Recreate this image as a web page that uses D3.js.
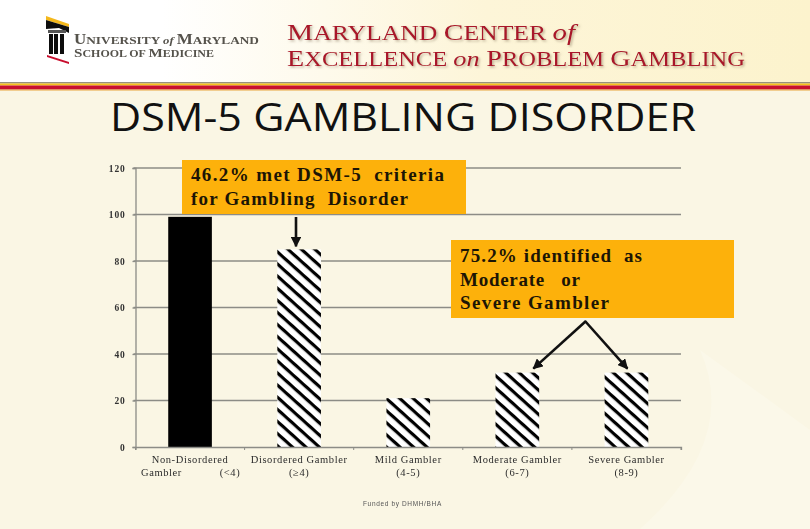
<!DOCTYPE html>
<html>
<head>
<meta charset="utf-8">
<script src="https://cdn.jsdelivr.net/npm/d3@7"></script>
<style>
html, body { margin: 0; padding: 0; background: #faf6e4; }
svg { display: block; }
</style>
</head>
<body>
<script>
"use strict";

///////////////////
// data
///////////////////
var categories = ["Non-Disordered", "Disordered Gambler", "Mild Gambler", "Moderate Gambler", "Severe Gambler"];
var scoreLabels = ["(<4)", "(\u22654)", "(4-5)", "(6-7)", "(8-9)"];
var values = [99, 85, 21, 32, 32];
var yTicks = [0, 20, 40, 60, 80, 100, 120];

var width = 810, height = 529;
var red = "#a9192b";

var svg = d3.select("body").append("svg")
    .attr("width", width)
    .attr("height", height);
var defs = svg.append("defs");

///////////////////
// defs
///////////////////
var headerGrad = defs.append("linearGradient").attr("id", "headerGrad");
headerGrad.append("stop").attr("offset", "0.2").attr("stop-color", "#ffffff");
headerGrad.append("stop").attr("offset", "0.6").attr("stop-color", "#fdf5d8");
headerGrad.append("stop").attr("offset", "1").attr("stop-color", "#fcf3cd");

var hatch = defs.append("pattern")
    .attr("id", "hatch")
    .attr("patternUnits", "userSpaceOnUse")
    .attr("width", 9)
    .attr("height", 9)
    .attr("patternTransform", "rotate(42)");
hatch.append("rect").attr("width", 9).attr("height", 9).attr("fill", "#fff");
hatch.append("rect").attr("width", 9).attr("height", 3.2).attr("fill", "#000");

defs.append("filter").attr("id", "soft")
    .append("feGaussianBlur").attr("stdDeviation", 0.45);

var shadow = defs.append("filter").attr("id", "shadow");
shadow.append("feDropShadow")
    .attr("dx", 1.5).attr("dy", 1.5).attr("stdDeviation", 1)
    .attr("flood-color", "#8a7a60").attr("flood-opacity", 0.55);

defs.append("marker")
    .attr("id", "head")
    .attr("viewBox", "0 0 10 10")
    .attr("refX", 9).attr("refY", 5)
    .attr("markerWidth", 4).attr("markerHeight", 4)
    .attr("orient", "auto")
    .append("path")
    .attr("d", "M0,0L10,5L0,10Z")
    .attr("fill", "#111");

///////////////////
// header
///////////////////
svg.append("rect").attr("width", width).attr("height", 83).attr("fill", "url(#headerGrad)");

// faint lighter swoosh of the slide background
svg.append("path")
    .attr("d", "M640,529 Q740,440 700,350 L810,430 L810,529 Z")
    .attr("fill", "#fbf8e9");

// rule under the header, grey / yellow / red
[["#97907c", 82, 1.5], ["#f6c21c", 83.5, 2], ["#c8102e", 85.5, 4], ["#e8a33a", 89.5, 1]].forEach(function(d) {
    svg.append("rect")
        .attr("x", 0).attr("y", d[1])
        .attr("width", width).attr("height", d[2])
        .attr("fill", d[0]);
});

// logo: small building
var logo = svg.append("g").attr("filter", "url(#soft)");
logo.append("path").attr("d", "M46,16 L69,24 L69,27 L46,20 Z").attr("fill", "#f4b81c");
logo.append("path").attr("d", "M46,20 L69,27 L69,33 L59,28 L46,29 Z").attr("fill", "#111");
logo.append("rect").attr("x", 48).attr("y", 30).attr("width", 18).attr("height", 3).attr("fill", "#555");
[49, 54, 60].forEach(function(x) {
    logo.append("rect").attr("x", x).attr("y", 34).attr("width", 4).attr("height", 20).attr("fill", "#111");
});
logo.append("path").attr("d", "M47,55 L69,62 L69,64 L47,57 Z").attr("fill", "#c8102e");

function smallCaps(x, y, parts, attrs) {
    var t = svg.append("text").attr("x", x).attr("y", y).attr("lengthAdjust", "spacingAndGlyphs");
    Object.keys(attrs).forEach(function(k) { t.attr(k, attrs[k]); });
    parts.forEach(function(p) {
        var s = t.append("tspan").text(p[0]).attr("font-size", p[1]);
        if (p[2]) s.attr("font-style", "italic");
    });
    return t;
}

var logoText = { "font-family": "Liberation Serif", "fill": "#55524c", "font-weight": "bold", "filter": "url(#soft)" };
smallCaps(74, 43.5, [["U", 14], ["NIVERSITY ", 11], ["of ", 10.5, true], ["M", 14], ["ARYLAND", 11]], logoText)
    .attr("textLength", 185);
smallCaps(74, 57, [["S", 12], ["CHOOL OF ", 9.5], ["M", 12], ["EDICINE", 9.5]], logoText)
    .attr("textLength", 140);

var headText = { "font-family": "Liberation Serif", "fill": red, "filter": "url(#shadow)" };
smallCaps(287, 39.5, [["M", 23.5], ["ARYLAND ", 20.5], ["C", 23.5], ["ENTER ", 20.5], ["of", 23, true]], headText)
    .attr("textLength", 288);
smallCaps(287, 65.5, [["E", 23.5], ["XCELLENCE ", 20.5], ["on ", 22, true], ["P", 23.5], ["ROBLEM ", 20.5], ["G", 23.5], ["AMBLING", 20.5]], headText)
    .attr("textLength", 458);

svg.append("text")
    .attr("x", 110).attr("y", 131)
    .attr("font-family", "Open Sans")
    .attr("font-size", 38.5)
    .attr("fill", "#111")
    .attr("lengthAdjust", "spacingAndGlyphs")
    .attr("textLength", 586)
    .text("DSM-5 GAMBLING DISORDER");

///////////////////
// chart
///////////////////
var plot = { left: 135.5, right: 681, top: 168, bottom: 447 };

var x = d3.scaleBand()
    .domain(categories)
    .range([plot.left, plot.right])
    .paddingInner(0.6)
    .paddingOuter(0.3);
var band = d3.scaleBand().domain(categories).range([plot.left, plot.right]);
var y = d3.scaleLinear().domain([0, 120]).range([plot.bottom, plot.top]);

// gridlines
svg.append("g").selectAll("line")
    .data(yTicks.filter(function(d) { return d > 0; }))
    .enter()
    .append("line")
    .attr("x1", plot.left - 2).attr("x2", plot.right)
    .attr("y1", function(d) { return y(d); })
    .attr("y2", function(d) { return y(d); })
    .attr("stroke", "#8c8c86")
    .attr("stroke-width", 1.3);

// bars
svg.append("g").selectAll("rect")
    .data(values)
    .enter()
    .append("rect")
    .attr("x", function(d, i) { return x(categories[i]); })
    .attr("y", function(d) { return y(d); })
    .attr("width", x.bandwidth())
    .attr("height", function(d) { return y(0) - y(d); })
    .attr("fill", function(d, i) { return i === 0 ? "#000" : "url(#hatch)"; });

// axes
var yAxis = svg.append("g")
    .attr("transform", "translate(" + plot.left + ",0)")
    .call(d3.axisLeft(y).tickValues(yTicks).tickSize(3).tickPadding(7));
var xAxis = svg.append("g")
    .attr("transform", "translate(0," + plot.bottom + ")")
    .call(d3.axisBottom(band).tickFormat("").tickSize(3));

// band axis ticks sit at band centres, the reference has them on the band edges
xAxis.selectAll(".tick").remove();
xAxis.selectAll("line.edge")
    .data(d3.range(categories.length + 1))
    .enter()
    .append("line")
    .attr("x1", function(i) { return plot.left + i * band.bandwidth(); })
    .attr("x2", function(i) { return plot.left + i * band.bandwidth(); })
    .attr("y1", 0).attr("y2", 3)
    .attr("stroke", "#8c8c86");

[yAxis, xAxis].forEach(function(a) {
    a.select(".domain").attr("stroke", "#8c8c86").attr("stroke-width", 1.3);
    a.selectAll(".tick line").attr("stroke", "#8c8c86").attr("stroke-width", 1.3);
});
yAxis.selectAll(".tick text")
    .attr("font-family", "Liberation Serif")
    .attr("font-size", 9.5)
    .attr("letter-spacing", 0.8)
    .attr("font-weight", "bold")
    .attr("fill", "#333")
    .attr("filter", "url(#soft)");

// category labels, two lines each
var labels = svg.append("g")
    .attr("font-family", "Liberation Serif")
    .attr("font-size", 10.5)
    .attr("letter-spacing", 0.6)
    .attr("fill", "#2c2c2c")
    .attr("filter", "url(#soft)");
categories.forEach(function(c, i) {
    var cx = band(c) + band.bandwidth() / 2;
    labels.append("text")
        .attr("x", cx)
        .attr("y", 463)
        .attr("text-anchor", "middle")
        .text(c);
    labels.append("text")
        .attr("x", i === 0 ? cx + 40 : cx)
        .attr("y", 476)
        .attr("text-anchor", "middle")
        .text(scoreLabels[i]);
});
labels.append("text")
    .attr("x", 141).attr("y", 476)
    .text("Gambler");

svg.append("text")
    .attr("x", 363).attr("y", 506)
    .attr("font-family", "Liberation Sans")
    .attr("font-size", 6.5)
    .attr("letter-spacing", 0.65)
    .attr("fill", "#555")
    .attr("filter", "url(#soft)")
    .text("Funded by DHMH/BHA");

///////////////////
// annotations
///////////////////
function callout(left, top, w, h, lines, baselines, lengths) {
    svg.append("rect")
        .attr("x", left).attr("y", top)
        .attr("width", w).attr("height", h)
        .attr("fill", "#fdb10b");
    lines.forEach(function(l, i) {
        svg.append("text")
            .attr("x", left + 9).attr("y", baselines[i])
            .attr("font-family", "Liberation Serif")
            .attr("font-weight", "bold")
            .attr("font-size", 19)
            .attr("lengthAdjust", "spacing")
            .attr("textLength", lengths[i])
            .style("white-space", "pre")
            .attr("fill", "#1c1505")
            .text(l);
    });
}

callout(182, 160, 284, 54, ["46.2% met DSM-5  criteria", "for Gambling  Disorder"], [181, 205], [253, 217]);
callout(451, 240, 283, 78, ["75.2% identified  as", "Moderate   or", "Severe Gambler"], [262, 286, 309], [182, 120, 149]);

function arrow(x1, y1, x2, y2) {
    svg.append("line")
        .attr("x1", x1).attr("y1", y1)
        .attr("x2", x2).attr("y2", y2)
        .attr("stroke", "#111")
        .attr("stroke-width", 2.6)
        .attr("marker-end", "url(#head)");
}
function barMid(i) { return x(categories[i]) + x.bandwidth() / 2; }

arrow(296, 217, 296, y(values[1]) - 3);
arrow(586, 321, barMid(3) + 16, y(values[3]) - 4);
arrow(585, 321, barMid(4) + 1, y(values[4]) - 4);
</script>
</body>
</html>
